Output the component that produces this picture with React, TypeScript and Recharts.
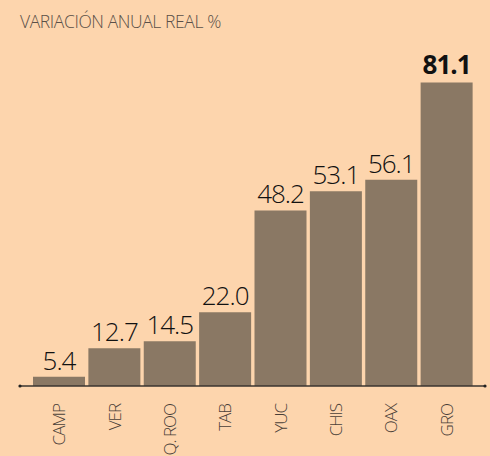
import React from 'react';
import { BarChart, Bar, XAxis, YAxis, LabelList } from 'recharts';

const states = ['CAMP', 'VER', 'Q. ROO', 'TAB', 'YUC', 'CHIS', 'OAX', 'GRO'];
const values = [5.4, 12.7, 14.5, 22.0, 48.2, 53.1, 56.1, 81.1];
const highlight = ['GRO'];
const title = 'VARIACIÓN ANUAL REAL %';

const data = states.map((s, i) => ({ state: s, value: values[i] }));

const BG = '#FDD5AD';
const BAR = '#8A7864';
const FONT = '"Open Sans", "Noto Sans", sans-serif';

const ValueLabel = (props: any) => {
  const { x, y, width, value, index } = props;
  const bold = highlight.includes(states[index]);
  return (
    <text
      x={x + width / 2}
      y={y - (bold ? 9 : 7)}
      textAnchor="middle"
      fontFamily={FONT}
      fontSize={26}
      fontWeight={bold ? 700 : 300}
      letterSpacing={-1}
      fill="#111"
    >
      {Number(value).toFixed(1)}
    </text>
  );
};

const Tick = (props: any) => {
  const { x, y, payload } = props;
  return (
    <text
      x={x}
      y={y + 10}
      transform={`rotate(-90, ${x}, ${y + 10})`}
      textAnchor="end"
      dominantBaseline="central"
      fontFamily={FONT}
      fontSize={17}
      fontWeight={300}
      letterSpacing={-1}
      fill="#4a4038"
    >
      {payload.value}
    </text>
  );
};

export default function App() {
  return (
    <div style={{ position: 'relative', width: 490, height: 456, background: BG }}>
      <style>{`body{margin:0;}`}</style>
      <div
        style={{
          position: 'absolute',
          left: 20,
          top: 9,
          fontFamily: FONT,
          fontWeight: 300,
          fontSize: 17.5,
          lineHeight: '24px',
          color: '#5a5048',
          letterSpacing: -0.4,
          whiteSpace: 'nowrap',
        }}
      >
        {title}
      </div>
      <BarChart
        width={490}
        height={456}
        data={data}
        margin={{ top: 48, right: 5, bottom: 0, left: 20 }}
      >
        <defs>
          <marker id="axdot" markerWidth="4" markerHeight="4" refX="2" refY="2" markerUnits="userSpaceOnUse">
            <circle cx="2" cy="2" r="1.6" fill="#222" />
          </marker>
        </defs>
        <XAxis
          dataKey="state"
          interval={0}
          height={70}
          padding={{ left: 11, right: 11 }}
          tickLine={false}
          axisLine={{ stroke: '#3a3530', strokeWidth: 1.3, markerStart: 'url(#axdot)', markerEnd: 'url(#axdot)' } as any}
          tick={<Tick />}
        />
        <YAxis hide domain={[3, 90]} allowDataOverflow />
        <Bar dataKey="value" fill={BAR} barSize={52} isAnimationActive={false}>
          <LabelList dataKey="value" content={<ValueLabel />} />
        </Bar>
      </BarChart>
    </div>
  );
}
